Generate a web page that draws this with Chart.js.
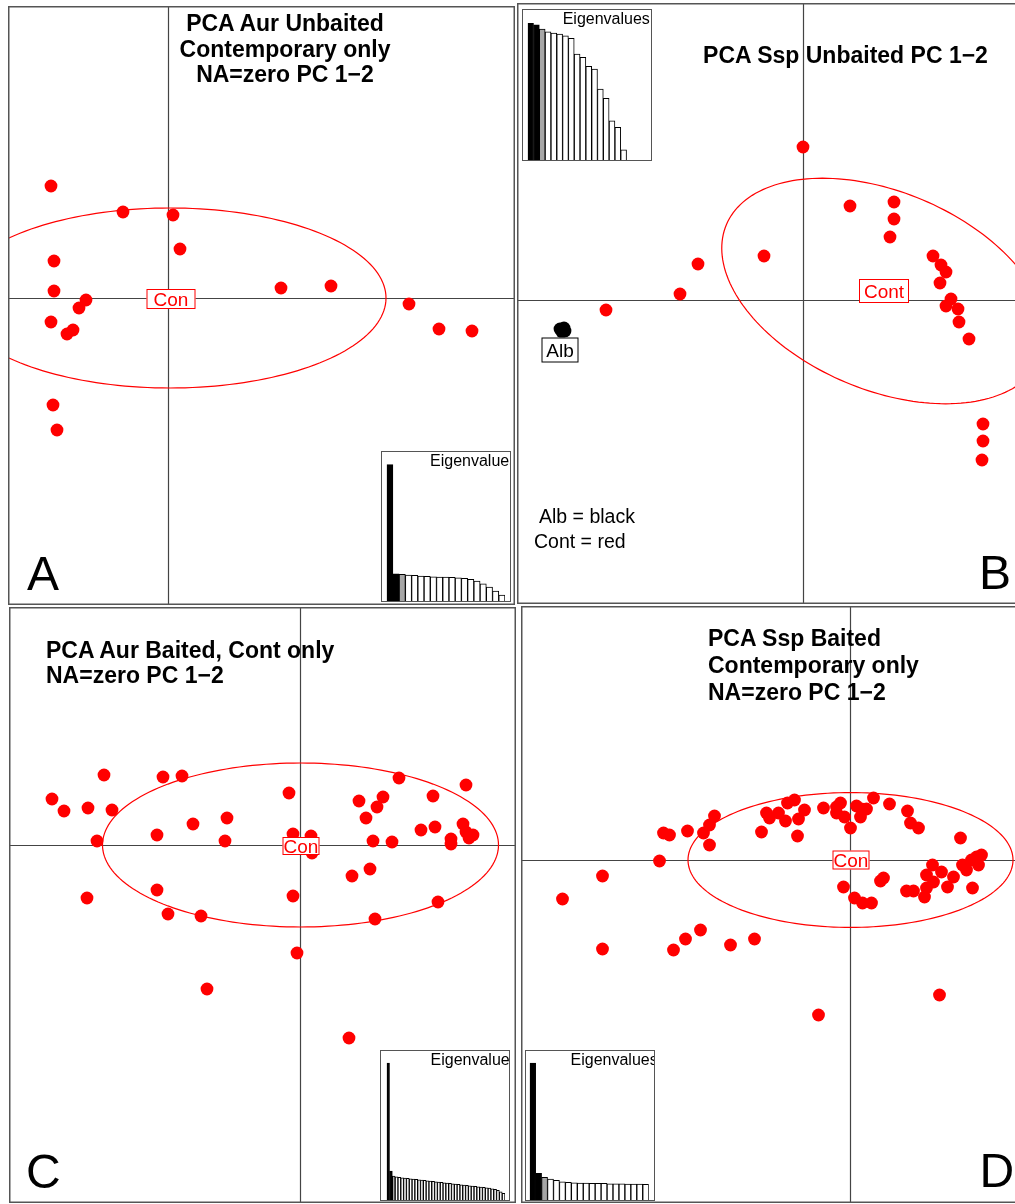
<!DOCTYPE html>
<html>
<head>
<meta charset="utf-8">
<script src="https://cdn.jsdelivr.net/npm/chart.js@4.4.1/dist/chart.umd.min.js"></script>
<style>
  html, body { margin: 0; padding: 0; background: #fff; overflow: hidden; width: 1015px; height: 1204px; }
  body { position: relative; font-family: "Liberation Sans", Arial, sans-serif; }
  .panel { position: absolute; }
  .panel canvas { display: block; }
  .inset { position: absolute; border: 1px solid #555; background: #fff; overflow: hidden; }
  .inset canvas { position: absolute; left: 0; top: 0; }
  .txt { position: absolute; white-space: nowrap; color: #000; }
</style>
</head>
<body>
<script>
// A: Aur unbaited, contemporary only (PC1, PC2 scores)
const aurUnbX = [-1.17, -0.45, 0.05, 0.12, -1.14, -1.14, -0.82, -0.89, -1.17, -0.95, -1.01, 1.13, 1.63, 2.41, 2.71, 3.04, -1.15, -1.11];
const aurUnbY = [1.12, 0.86, 0.83, 0.49, 0.37, 0.07, -0.02, -0.10, -0.24, -0.32, -0.36, 0.10, 0.12, -0.06, -0.31, -0.33, -1.07, -1.32];
const eigA = [5.49, 1.09, 1.07, 1.04, 1.03, 1.00, 0.99, 0.97, 0.96, 0.96, 0.95, 0.93, 0.91, 0.87, 0.80, 0.69, 0.56, 0.40, 0.24];
const ellA = [0.02, 0.00, 2.16, 0.90, 0];

// B: Ssp unbaited, Cont (red) and Alb (black)
const sspUnbX = [0.00, 0.47, 0.91, 0.91, 0.87, -0.39, -1.05, -1.23, -1.97, 1.30, 1.38, 1.43, 1.37, 1.48, 1.43, 1.55, 1.56, 1.66, 1.80, 1.80, 1.79];
const sspUnbY = [1.53, 0.94, 0.98, 0.81, 0.63, 0.44, 0.36, 0.06, -0.10, 0.44, 0.35, 0.28, 0.17, 0.01, -0.06, -0.09, -0.22, -0.39, -1.24, -1.41, -1.60];
const albX = [-2.43, -2.39, -2.41, -2.38];
const albY = [-0.29, -0.28, -0.32, -0.31];
const albLabel = [-2.43, -0.505];
const eigB = [5.47, 5.41, 5.24, 5.13, 5.08, 5.04, 4.97, 4.87, 4.24, 4.11, 3.75, 3.64, 2.84, 2.47, 1.57, 1.31, 0.41, 0, 0, 0];
const ellB = [0.81, 0.09, 1.71, 0.99, -22.8];

// C: Aur baited, Cont only
const aurBaitX = [-1.96, -1.37, -1.18, -2.48, -2.36, -2.12, -1.88, -2.03, -1.43, -1.07, -0.73, -0.75, -0.11, -0.07, 0.11, 0.12, 0.99, 1.66, 0.83, 0.59, 0.77, 0.66, 1.33, 1.21, 1.35, 1.63, 1.66, 1.73, 1.69, 1.51, 1.51, 0.73, 0.92, 0.70, 0.52, -2.13, -1.43, -1.32, -0.99, -0.07, 1.38, 0.75, -0.03, -0.93, 0.49];
const aurBaitY = [0.70, 0.68, 0.69, 0.46, 0.34, 0.37, 0.35, 0.04, 0.10, 0.21, 0.27, 0.04, 0.52, 0.11, 0.09, -0.08, 0.67, 0.60, 0.48, 0.44, 0.38, 0.27, 0.49, 0.15, 0.18, 0.21, 0.13, 0.10, 0.07, 0.06, 0.01, 0.04, 0.03, -0.24, -0.31, -0.53, -0.45, -0.69, -0.71, -0.51, -0.57, -0.74, -1.08, -1.44, -1.93];
const eigC = [5.51, 1.16, 0.96, 0.93, 0.91, 0.89, 0.88, 0.87, 0.85, 0.84, 0.83, 0.81, 0.80, 0.79, 0.77, 0.76, 0.75, 0.73, 0.72, 0.71, 0.69, 0.68, 0.67, 0.65, 0.64, 0.63, 0.61, 0.60, 0.59, 0.57, 0.56, 0.55, 0.53, 0.52, 0.51, 0.49, 0.48, 0.45, 0.43, 0.39, 0.33, 0.27];
const ellC = [0.005, 0.00, 1.98, 0.82, 0];

// D: Ssp baited, contemporary only
const sspBaitX = [-1.62, -1.46, -1.40, -1.35, -1.40, -1.86, -1.80, -1.90, -2.47, -2.87,
  -2.47, -1.76, -1.64, -1.49, -1.19, -0.95, -0.31, 0.90, -0.88, -0.83,
  -0.80, -0.71, -0.64, -0.62, -0.55, -0.45, -0.51, -0.52, -0.26, -0.13,
  -0.09, -0.13, -0.05, 0.01, 0.07, 0.12, 0.17, 0.11, 0.24, 0.40,
  0.58, 0.61, 0.69, 1.11, -0.06, 0.05, 0.13, 0.22, 0.31, 0.34,
  0.57, 0.64, 0.75, 0.77, 0.77, 0.83, 0.84, 0.92, 0.98, 1.04,
  1.13, 1.17, 1.22, 1.27, 1.32, 1.29, 1.23];
const sspBaitY = [0.29, 0.27, 0.35, 0.44, 0.15, 0.27, 0.25, -0.01, -0.16, -0.39,
  -0.89, -0.90, -0.79, -0.70, -0.85, -0.79, -1.55, -1.35, 0.28, 0.47,
  0.42, 0.47, 0.39, 0.57, 0.60, 0.50, 0.41, 0.24, 0.52, 0.53,
  0.57, 0.47, 0.43, 0.32, 0.54, 0.51, 0.51, 0.43, 0.62, 0.56,
  0.49, 0.37, 0.32, 0.22, -0.27, -0.38, -0.43, -0.43, -0.21, -0.18,
  -0.31, -0.31, -0.37, -0.28, -0.15, -0.05, -0.22, -0.12, -0.27, -0.17,
  -0.05, -0.10, 0.00, 0.03, 0.05, -0.05, -0.28];
const eigD = [5.51, 1.07, 0.91, 0.84, 0.79, 0.73, 0.71, 0.69, 0.68, 0.68, 0.67, 0.67, 0.67, 0.65, 0.65, 0.65, 0.64, 0.64, 0.64, 0.63];
const ellD = [0.01, 0.00, 1.625, 0.674, 0];

const RED = '#ff0000';
const FONT = '"Liberation Sans", Arial, sans-serif';

// axes through origin, class ellipses, boxed labels and the frame
const pcaDecor = {
  id: 'pcaDecor',
  beforeDatasetsDraw(chart, args, opts) {
    const { ctx, chartArea: a, scales: { x, y } } = chart;
    const x0 = Math.round(x.getPixelForValue(0)) + 0.5;
    const y0 = Math.round(y.getPixelForValue(0)) + 0.5;
    ctx.save();
    ctx.strokeStyle = '#444';
    ctx.lineWidth = 1.2;
    ctx.beginPath();
    ctx.moveTo(x0, a.top); ctx.lineTo(x0, a.bottom);
    ctx.moveTo(a.left, y0); ctx.lineTo(a.right, y0);
    ctx.stroke();
    ctx.restore();
  },
  afterDatasetsDraw(chart, args, opts) {
    const { ctx, chartArea: a, scales: { x, y } } = chart;
    ctx.save();
    (opts.ellipses || []).forEach(e => {
      const [cx, cy, rx, ry, deg] = e.par;
      const t = deg * Math.PI / 180;
      ctx.beginPath();
      for (let i = 0; i <= 180; i++) {
        const u = i / 180 * 2 * Math.PI;
        const dx = rx * Math.cos(u), dy = ry * Math.sin(u);
        const px = x.getPixelForValue(cx + dx * Math.cos(t) - dy * Math.sin(t));
        const py = y.getPixelForValue(cy + dx * Math.sin(t) + dy * Math.cos(t));
        if (i) ctx.lineTo(px, py); else ctx.moveTo(px, py);
      }
      ctx.strokeStyle = e.color;
      ctx.lineWidth = 1.2;
      ctx.stroke();
    });
    (opts.labels || []).forEach(l => {
      const px = Math.round(x.getPixelForValue(l.at[0]));
      const py = Math.round(y.getPixelForValue(l.at[1]));
      ctx.fillStyle = '#fff';
      ctx.fillRect(px - l.w / 2, py - l.h / 2, l.w, l.h);
      ctx.strokeStyle = l.color;
      ctx.lineWidth = 1;
      ctx.strokeRect(px - l.w / 2 + 0.5, py - l.h / 2 + 0.5, l.w - 1, l.h - 1);
      ctx.font = '19px ' + FONT;
      ctx.fillStyle = l.color;
      ctx.textAlign = 'center';
      ctx.textBaseline = 'alphabetic';
      ctx.fillText(l.text, px, py + 7);
    });
    ctx.strokeStyle = '#555';
    ctx.lineWidth = 1.5;
    ctx.strokeRect(a.left + 0.75, a.top + 0.75, a.right - a.left - 1.5, a.bottom - a.top - 1.5);
    ctx.restore();
  }
};

function scatterPanel(box, range, sets, decor) {
  const wrap = document.createElement('div');
  wrap.className = 'panel';
  wrap.style.left = box[0] + 'px';
  wrap.style.top = box[1] + 'px';
  const cv = document.createElement('canvas');
  cv.width = box[2];
  cv.height = box[3];
  wrap.appendChild(cv);
  document.body.appendChild(wrap);
  return new Chart(cv, {
    type: 'scatter',
    data: {
      datasets: sets.map(s => ({
        data: s.x.map((v, i) => ({ x: v, y: s.y[i] })),
        backgroundColor: s.color,
        pointRadius: 6.4,
        pointHoverRadius: 6.4,
        pointBorderWidth: 0
      }))
    },
    options: {
      responsive: false,
      animation: false,
      events: [],
      devicePixelRatio: 1,
      layout: { padding: 0, autoPadding: false },
      scales: {
        x: { type: 'linear', display: false, min: range[0], max: range[1] },
        y: { type: 'linear', display: false, min: range[2], max: range[3] }
      },
      plugins: { legend: { display: false }, tooltip: { enabled: false }, pcaDecor: decor }
    },
    plugins: [pcaDecor]
  });
}

function addText(lines, o) {
  const d = document.createElement('div');
  d.className = 'txt';
  const lh = o.lh || Math.round(o.size * 1.15);
  d.style.fontSize = o.size + 'px';
  d.style.fontWeight = o.bold ? 'bold' : 'normal';
  d.style.lineHeight = lh + 'px';
  d.style.top = (o.base - ((lh - 1.117 * o.size) / 2 + 0.905 * o.size)) + 'px';
  if (o.center != null) {
    d.style.left = (o.center - 300) + 'px';
    d.style.width = '600px';
    d.style.textAlign = 'center';
  } else {
    d.style.left = o.left + 'px';
  }
  d.innerHTML = lines.join('<br>');
  (o.parent || document.body).appendChild(d);
}

function eigInset(box, values, pad, textX) {
  const w = document.createElement('div');
  w.className = 'inset';
  w.style.left = box[0] + 'px';
  w.style.top = box[1] + 'px';
  w.style.width = (box[2] - 2) + 'px';
  w.style.height = (box[3] - 2) + 'px';
  const cv = document.createElement('canvas');
  cv.width = box[2] - 2;
  cv.height = box[3] - 2;
  w.appendChild(cv);
  document.body.appendChild(w);
  new Chart(cv, {
    type: 'bar',
    data: {
      labels: values.map((v, i) => String(i + 1)),
      datasets: [{
        data: values,
        backgroundColor: c => c.dataIndex < 2 ? '#000' : (c.dataIndex === 2 ? '#a6a6a6' : '#fff'),
        borderColor: '#000',
        borderWidth: 1,
        barPercentage: 1,
        categoryPercentage: 1
      }]
    },
    options: {
      responsive: false,
      animation: false,
      events: [],
      devicePixelRatio: 1,
      layout: { padding: { left: pad[0], right: pad[1], top: 0, bottom: 0 }, autoPadding: false },
      scales: {
        x: { display: false },
        y: { display: false, min: 0, max: 6 }
      },
      plugins: { legend: { display: false }, tooltip: { enabled: false } }
    }
  });
  addText(['Eigenvalues'], { parent: w, size: 16, left: textX, base: 14.5, lh: 16 });
}

// A
scatterPanel([8, 6, 507, 599], [-1.60, 3.47, -3.07, 2.92],
  [{ x: aurUnbX, y: aurUnbY, color: RED }],
  { ellipses: [{ par: ellA, color: RED }],
    labels: [{ at: [0.03, -0.005], text: 'Con', color: RED, w: 49, h: 20 }] });
// B
scatterPanel([517, 3, 505, 601], [-2.86, 2.19, -3.04, 2.97],
  [{ x: sspUnbX, y: sspUnbY, color: RED }, { x: albX, y: albY, color: '#000' }],
  { ellipses: [{ par: ellB, color: RED }],
    labels: [{ at: [ellB[0], ellB[1]], text: 'Cont', color: RED, w: 50, h: 24 },
             { at: albLabel, text: 'Alb', color: '#000', w: 37, h: 25 }] });
// C
scatterPanel([9, 607, 507, 596], [-2.91, 2.16, -3.58, 2.38],
  [{ x: aurBaitX, y: aurBaitY, color: RED }],
  { ellipses: [{ par: ellC, color: RED }],
    labels: [{ at: [0.01, -0.01], text: 'Con', color: RED, w: 37, h: 18 }] });
// D
scatterPanel([521, 606, 500, 597], [-3.285, 1.715, -3.43, 2.54],
  [{ x: sspBaitX, y: sspBaitY, color: RED }],
  { ellipses: [{ par: ellD, color: RED }],
    labels: [{ at: [0.01, 0.0], text: 'Con', color: RED, w: 37, h: 19 }] });

eigInset([381, 451, 130, 151], eigA, [4.7, 5], 48);
eigInset([522, 9, 130, 152], eigB, [4.7, 7], 39.7);
eigInset([380, 1050, 130, 151], eigC, [5.7, 4], 49.5);
eigInset([525, 1050, 130, 151], eigD, [3.7, 5.3], 44.5);

addText(['PCA Aur Unbaited', 'Contemporary only', 'NA=zero PC 1\u22122'], { size: 23, bold: true, center: 285, base: 32, lh: 25.5 });
addText(['PCA Ssp Unbaited PC 1\u22122'], { size: 23, bold: true, center: 845.5, base: 62.5 });
addText(['PCA Aur Baited, Cont only', 'NA=zero PC 1\u22122'], { size: 23, bold: true, left: 46, base: 658.5, lh: 25.5 });
addText(['PCA Ssp Baited', 'Contemporary only', 'NA=zero PC 1\u22122'], { size: 23, bold: true, left: 708, base: 646.5, lh: 26.7 });

addText(['Alb = black'], { size: 19.5, left: 539, base: 523 });
addText(['Cont = red'], { size: 19.5, left: 534, base: 548 });

addText(['A'], { size: 48, left: 27, base: 590.5 });
addText(['B'], { size: 48, left: 979, base: 589 });
addText(['C'], { size: 48, left: 26, base: 1188 });
addText(['D'], { size: 48, left: 979.5, base: 1187.5 });
</script>
</body>
</html>
